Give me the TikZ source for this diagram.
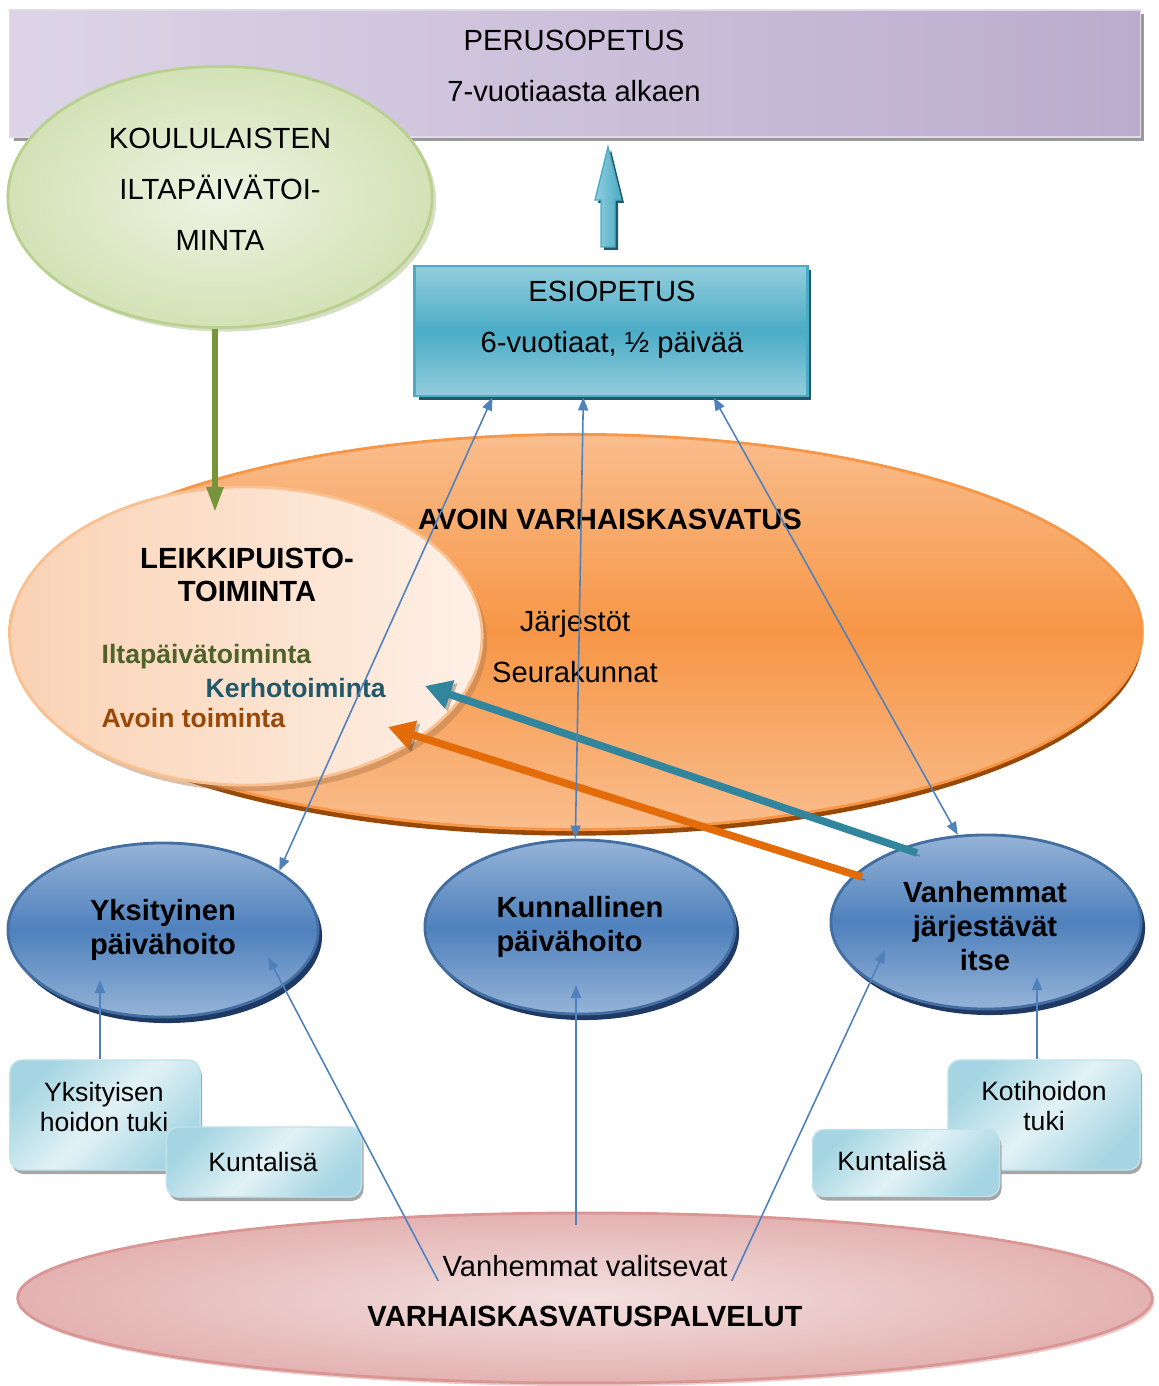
\documentclass[tikz,border=0pt]{standalone}
\usepackage{fontspec}
\setmainfont{Liberation Sans}
\usetikzlibrary{arrows.meta, calc, shadows, shapes.geometric}

\definecolor{lavLight}{HTML}{EAE5F1}
\definecolor{lavDark}{HTML}{B3A2C7}
\definecolor{greenIn}{HTML}{EEF3E2}
\definecolor{greenOut}{HTML}{D3E2B6}
\definecolor{greenLine}{HTML}{B9D18F}
\definecolor{greenArr}{HTML}{77933C}
\definecolor{greenTxt}{HTML}{4F6228}
\definecolor{esiLight}{HTML}{93CDDD}
\definecolor{esiMid}{HTML}{4BACC6}
\definecolor{esiDark}{HTML}{215968}
\definecolor{orMain}{HTML}{F79646}
\definecolor{orLight}{HTML}{F9BD8D}
\definecolor{orDark}{HTML}{984807}
\definecolor{orArr}{HTML}{E36C09}
\definecolor{peachDark}{HTML}{FAD2B4}
\definecolor{peachLight}{HTML}{FEF0E6}
\definecolor{tealArr}{HTML}{31859C}
\definecolor{blueMain}{HTML}{4F81BD}
\definecolor{blueLight}{HTML}{95B3D7}
\definecolor{blueDark}{HTML}{1F3864}
\definecolor{boxLight}{HTML}{E2F2F6}
\definecolor{boxDark}{HTML}{A5D5E2}
\definecolor{pinkLight}{HTML}{F3E0DF}
\definecolor{pinkDark}{HTML}{E3B2B1}
\definecolor{pinkLine}{HTML}{D99694}

\newcommand{\thinTip}{{Triangle[length=1.3mm, width=1mm]}}
\newcommand{\fatTip}{{Triangle[length=2.6mm, width=2.8mm]}}

\tikzset{
  txt/.style={font=\fontsize{8.3}{14.5}\selectfont, align=center, inner sep=0pt},
  txtb/.style={font=\fontsize{8.3}{9.3}\selectfont\bfseries, align=center, inner sep=0pt},
  smalltxt/.style={font=\fontsize{7.55}{8.6}\selectfont, align=center, inner sep=0pt},
  listtxt/.style={font=\fontsize{7.55}{9}\selectfont\bfseries, anchor=west, inner sep=0pt},
  perubox/.style={rectangle, minimum width=11.3cm, minimum height=1.27cm,
    left color=lavLight!75!lavDark, middle color=lavLight!60!white, right color=lavDark!85!lavLight,
    draw=lavDark!40,
    drop shadow={fill=black!40, opacity=1, shadow xshift=0.4mm, shadow yshift=-0.4mm}},
  koulell/.style={ellipse, minimum width=4.24cm, minimum height=2.61cm,
    inner color=greenIn, outer color=greenOut, draw=greenLine, thick,
    drop shadow={fill=greenArr!50, opacity=.6, shadow xshift=0.4mm, shadow yshift=-0.4mm}},
  esibox/.style={rectangle, minimum width=3.92cm, minimum height=1.3cm,
    top color=esiLight, bottom color=esiLight, middle color=esiMid, draw=esiMid, thick,
    drop shadow={fill=esiDark, opacity=1, shadow xshift=0.4mm, shadow yshift=-0.4mm}},
  avoinell/.style={ellipse, minimum width=11.32cm, minimum height=3.95cm,
    top color=orLight, bottom color=orLight, middle color=orMain, draw=orMain, thick,
    drop shadow={fill=orDark, opacity=1, shadow xshift=0mm, shadow yshift=-0.6mm}},
  leikell/.style={ellipse, minimum width=4.72cm, minimum height=2.98cm,
    left color=peachDark, right color=peachLight, draw=orMain!60, thick,
    drop shadow={fill=orDark!70, opacity=.5, shadow xshift=0.5mm, shadow yshift=-0.6mm}},
  blueell/.style={ellipse, minimum width=3.1cm, minimum height=1.74cm, inner sep=0pt,
    top color=blueLight, bottom color=blueLight, middle color=blueMain,
    draw=blueMain!85!black, thick, align=center,
    font=\fontsize{8.3}{9.8}\selectfont\bfseries,
    drop shadow={fill=blueDark, opacity=1, shadow xshift=0.4mm, shadow yshift=-0.6mm}},
  tukibox/.style={rectangle, rounded corners=1.2mm, inner sep=0pt,
    top color=boxDark, bottom color=boxDark, middle color=boxLight, shading angle=45,
    draw=boxDark!70,
    drop shadow={fill=black!35, opacity=1, shadow xshift=0.2mm, shadow yshift=-0.4mm}},
  pinkell/.style={ellipse, minimum width=11.34cm, minimum height=1.7cm,
    inner color=pinkLight, outer color=pinkDark, draw=pinkLine, thick,
    drop shadow={fill=pinkLine, opacity=.5, shadow xshift=0.2mm, shadow yshift=-0.3mm}},
  thinarr/.style={blueMain, line width=0.45pt},
  fatarr/.style={line width=0.75mm, -\fatTip,
    preaction={draw=black, opacity=.25, transform canvas={shift={(0.3mm,-0.3mm)}}}},
}

\begin{document}
\begin{tikzpicture}[x=0.01cm, y=-0.01cm]
\useasboundingbox (0,0) rectangle (1158,1386);

% top: perusopetus and school afternoon activity
\node[perubox] (peru) at (575,73.5) {};
\node[txt] (peruTxt) at (574,66) {PERUSOPETUS\\7-vuotiaasta alkaen};
\node[koulell] (koul) at (220,197) {};
\node[txt] (koulTxt) at (220,189) {KOULULAISTEN\\ILTAPÄIVÄTOI-\\MINTA};

% block arrow up to perusopetus
\begin{scope}[shift={(608,247)}]
  \fill[esiDark] (-4,3) -- (-4,-44) -- (-10,-44) -- (3,-97) -- (16,-44) -- (10,-44) -- (10,3) -- cycle;
  \shade[left color=esiLight, right color=esiMid, draw=esiMid]
    (-7,0) -- (-7,-47) -- (-13,-47) -- (0,-100) -- (13,-47) -- (7,-47) -- (7,0) -- cycle;
\end{scope}

\node[esibox] (esi) at (611,331) {};
\node[txt] (esiTxt) at (612,319.5) {ESIOPETUS\\6-vuotiaat, ½ päivää};

% open early childhood education
\node[avoinell] (avoin) at (576,632) {};
\node[leikell] (leik) at (246,636) {};
\coordinate (greenTip) at (215,512);
\draw[greenArr, line width=0.55mm, -{Triangle[length=2.5mm, width=1.6mm]}] (koul.south -| greenTip) -- (greenTip);

\node[txtb] (avoinTxt) at (610,519) {AVOIN VARHAISKASVATUS};
\node[txtb] (leikTxt) at (247,575) {LEIKKIPUISTO-\\TOIMINTA};
\node[listtxt, text=greenTxt] (ilta) at (101,657) {Iltapäivätoiminta};
\node[listtxt, text=esiDark] (kerho) at (205,688) {Kerhotoiminta};
\node[listtxt, text=orDark] (avoTo) at (101,718) {Avoin toiminta};
\node[txt] (jarj) at (575,647) {Järjestöt\\Seurakunnat};

% day care forms
\node[blueell] (yks) at (163,930) {Yksityinen\\päivähoito};
\node[blueell, align=left] (kun) at (580,927) {Kunnallinen\\päivähoito};
\node[blueell] (van) at (986,922) {};
\node[txtb, font=\fontsize{8.3}{9.6}\selectfont\bfseries] (vanTxt) at (985,926) {Vanhemmat\\järjestävät\\itse};

\node[tukibox, minimum width=1.9cm, minimum height=1.1cm] (ytuki) at (105,1115) {};
\node[smalltxt] (ytukiTxt) at (104,1107) {Yksityisen\\hoidon tuki};
\node[tukibox, minimum width=1.95cm, minimum height=0.7cm] (ykunta) at (264,1162) {};
\node[smalltxt] (ykuntaTxt) at (263,1162) {Kuntalisä};
\node[tukibox, minimum width=1.92cm, minimum height=1.1cm] (kotit) at (1044,1115) {};
\node[smalltxt] (kotitTxt) at (1044,1106) {Kotihoidon\\tuki};
\node[tukibox, minimum width=1.87cm, minimum height=0.67cm] (vkunta) at (906,1163) {};
\node[smalltxt] (vkuntaTxt) at (892,1161) {Kuntalisä};

\node[pinkell] (palv) at (585,1298) {};
\node[txt, inner sep=1pt] (valitse) at (585,1266) {Vanhemmat valitsevat};
\node[txtb] (palvTxt) at (585,1316) {VARHAISKASVATUSPALVELUT};

% thick arrows into the playground
\coordinate (tealStart) at (917,853);
\coordinate (tealTip) at (425,686);
\coordinate (orStart) at (862,877);
\coordinate (orTip) at (388,727);
\draw[fatarr, tealArr] (tealStart) -- (tealTip);
\draw[fatarr, orArr] (orStart) -- (orTip);

% thin connectors
\draw[thinarr, \thinTip-\thinTip] ($(esi.south west)!0.2!(esi.south east)$) -- (yks.27);
\draw[thinarr, \thinTip-\thinTip] ($(esi.south west)!0.43!(esi.south east)$) -- (kun.93);
\draw[thinarr, \thinTip-\thinTip] ($(esi.south west)!0.76!(esi.south east)$) -- (van.108);

\coordinate (yksTip) at (100,980);
\coordinate (vanTip) at (1037,977);
\coordinate (kunTip) at (576,985);
\coordinate (palvTop) at (576,1225);
\coordinate (yksTip2) at (268,957);
\coordinate (vanTip2) at (885,950);
\draw[thinarr, -\thinTip] (ytuki.north -| yksTip) -- (yksTip);
\draw[thinarr, -\thinTip] (kotit.north -| vanTip) -- (vanTip);
\draw[thinarr, -\thinTip] (palvTop) -- (kunTip);
\draw[thinarr, -\thinTip] (valitse.south west) -- (yksTip2);
\draw[thinarr, -\thinTip] (valitse.south east) -- (vanTip2);

\end{tikzpicture}
\end{document}
